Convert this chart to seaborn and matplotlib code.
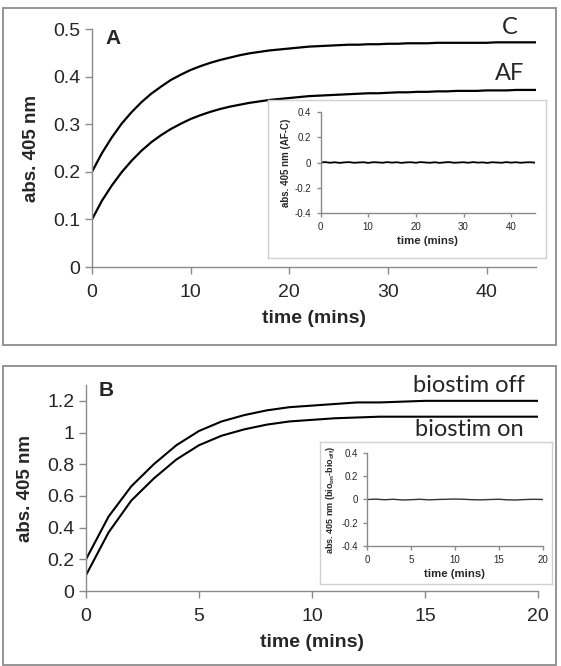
import numpy as np
import pandas as pd
import seaborn as sns
import matplotlib.pyplot as plt
from matplotlib.patches import Rectangle

# panel A: absorbance vs time, every minute
time_a = list(range(0, 46))
abs_c = [0.200, 0.239, 0.272, 0.301, 0.325, 0.346, 0.364, 0.379, 0.393, 0.404,
         0.414, 0.422, 0.429, 0.435, 0.440, 0.445, 0.449, 0.452, 0.455, 0.457,
         0.459, 0.461, 0.463, 0.464, 0.465, 0.466, 0.467, 0.467, 0.468, 0.468,
         0.469, 0.469, 0.470, 0.470, 0.470, 0.471, 0.471, 0.471, 0.471, 0.471,
         0.471, 0.472, 0.472, 0.472, 0.472, 0.472]
abs_af = [0.100, 0.139, 0.171, 0.199, 0.223, 0.244, 0.262, 0.277, 0.290, 0.301,
          0.311, 0.319, 0.326, 0.332, 0.337, 0.341, 0.345, 0.348, 0.351, 0.353,
          0.355, 0.357, 0.359, 0.360, 0.361, 0.362, 0.363, 0.364, 0.365, 0.365,
          0.366, 0.367, 0.367, 0.368, 0.368, 0.369, 0.369, 0.370, 0.370, 0.370,
          0.371, 0.371, 0.371, 0.372, 0.372, 0.372]
diff_a = [0.000, 0.003, -0.002, 0.002, -0.003, 0.001, 0.003, -0.002, 0.000, 0.002,
          -0.003, 0.002, 0.001, -0.002, 0.003, -0.001, 0.002, -0.003, 0.001, 0.002,
          -0.002, 0.003, 0.000, -0.002, 0.002, -0.003, 0.001, 0.003, -0.002, 0.000,
          0.002, -0.002, 0.003, -0.001, 0.001, -0.003, 0.002, 0.000, -0.002, 0.003,
          -0.001, 0.002, -0.002, 0.001, 0.002, -0.001]

# panel B
time_b = list(range(0, 21))
abs_off = [0.20, 0.47, 0.66, 0.80, 0.92, 1.01, 1.07, 1.11, 1.14, 1.16, 1.17,
           1.18, 1.19, 1.19, 1.195, 1.20, 1.20, 1.20, 1.20, 1.20, 1.20]
abs_on = [0.10, 0.37, 0.57, 0.71, 0.83, 0.92, 0.98, 1.02, 1.05, 1.07, 1.08,
          1.09, 1.095, 1.10, 1.10, 1.10, 1.10, 1.10, 1.10, 1.10, 1.10]
diff_b = [0.000, 0.003, -0.002, 0.002, -0.004, -0.002, 0.002, -0.003, 0.000, 0.002,
          0.004, 0.002, -0.002, -0.003, 0.000, 0.002, -0.003, -0.004, 0.000, 0.002, 0.000]

sns.set_style("white")
plt.rcParams['font.family'] = ['Liberation Sans', 'DejaVu Sans']
plt.rcParams['mathtext.fontset'] = 'custom'
plt.rcParams['mathtext.rm'] = 'Liberation Sans'
plt.rcParams['mathtext.bf'] = 'Liberation Sans:bold'

W, H = 561, 666
fig = plt.figure(figsize=(W / 100, H / 100), dpi=100)


def px_rect(x0, y0, x1, y1):
    # pixel box (top-left origin) -> figure fraction [left, bottom, width, height]
    return [x0 / W, 1 - y1 / H, (x1 - x0) / W, (y1 - y0) / H]


def style_axes(ax, tick_size, tick_len):
    for s in ['top', 'right']:
        ax.spines[s].set_visible(False)
    for s in ['left', 'bottom']:
        ax.spines[s].set_color('#8a8a8a')
        ax.spines[s].set_linewidth(1.0)
    ax.tick_params(axis='both', which='both', direction='out', length=tick_len,
                   width=1.0, color='#8a8a8a', labelsize=tick_size, left=True, bottom=True)
    ax.grid(False)


def frame(rect, color, lw):
    fig.patches.append(Rectangle((rect[0], rect[1]), rect[2], rect[3],
                                 transform=fig.transFigure, fill=False,
                                 edgecolor=color, linewidth=lw, zorder=0))


# panel frames
frame(px_rect(3, 8, 556, 345), '#8c8c8c', 1.3)
frame(px_rect(3, 366, 556, 665), '#8c8c8c', 1.3)

# ---- panel A ----
ax_a = fig.add_axes(px_rect(92, 29, 536, 267))
df_a = pd.DataFrame({'time': time_a, 'C': abs_c, 'AF': abs_af})
sns.lineplot(data=df_a, x='time', y='C', ax=ax_a, color='black', linewidth=1.6)
sns.lineplot(data=df_a, x='time', y='AF', ax=ax_a, color='black', linewidth=1.6)
ax_a.set_xlim(0, 45)
ax_a.set_ylim(0, 0.5)
ax_a.set_xticks([0, 10, 20, 30, 40])
ax_a.set_yticks([0, 0.1, 0.2, 0.3, 0.4, 0.5])
ax_a.set_yticklabels(['0', '0.1', '0.2', '0.3', '0.4', '0.5'])
style_axes(ax_a, 14, 5)
ax_a.tick_params(axis='x', pad=7)
ax_a.set_xlabel('time (mins)', fontsize=14, fontweight='bold', labelpad=7)
ax_a.set_ylabel('abs. 405 nm', fontsize=13.5, fontweight='bold', labelpad=9)

fig.text(113 / W, 1 - 39 / H, 'A', fontsize=15, fontweight='bold', ha='center', va='center')
fig.text(510 / W, 1 - 27 / H, 'C', fontsize=17, family='Lato', ha='center', va='center')
fig.text(510 / W, 1 - 73 / H, 'AF', fontsize=17, family='Lato', ha='center', va='center')

# inset A
box_a = fig.add_axes(px_rect(268, 100, 546, 258))
box_a.set_xticks([])
box_a.set_yticks([])
for s in box_a.spines.values():
    s.set_color('#d0d0d0')
    s.set_linewidth(1.0)
box_a.set_facecolor('white')

in_a = fig.add_axes(px_rect(320.5, 112, 535, 213))
in_a.patch.set_alpha(0)
df_da = pd.DataFrame({'time': time_a, 'diff': diff_a})
sns.lineplot(data=df_da, x='time', y='diff', ax=in_a, color='black', linewidth=1.3)
in_a.set_xlim(0, 45)
in_a.set_ylim(-0.4, 0.4)
in_a.set_xticks([0, 10, 20, 30, 40])
in_a.set_yticks([-0.4, -0.2, 0, 0.2, 0.4])
in_a.set_yticklabels(['-0.4', '-0.2', '0', '0.2', '0.4'])
style_axes(in_a, 7, 3)
in_a.set_xlabel('time (mins)', fontsize=8.2, fontweight='bold', labelpad=3)
in_a.set_ylabel('abs. 405 nm (AF-C)', fontsize=7, fontweight='bold', labelpad=3)

# ---- panel B ----
ax_b = fig.add_axes(px_rect(86, 385, 538, 591))
df_b = pd.DataFrame({'time': time_b, 'off': abs_off, 'on': abs_on})
sns.lineplot(data=df_b, x='time', y='off', ax=ax_b, color='black', linewidth=1.5)
sns.lineplot(data=df_b, x='time', y='on', ax=ax_b, color='black', linewidth=1.5)
ax_b.set_xlim(0, 20)
ax_b.set_ylim(0, 1.3)
ax_b.set_xticks([0, 5, 10, 15, 20])
ax_b.set_yticks([0, 0.2, 0.4, 0.6, 0.8, 1.0, 1.2])
ax_b.set_yticklabels(['0', '0.2', '0.4', '0.6', '0.8', '1', '1.2'])
style_axes(ax_b, 14, 5)
ax_b.tick_params(axis='x', pad=7)
ax_b.set_xlabel('time (mins)', fontsize=14, fontweight='bold', labelpad=7)
ax_b.set_ylabel('abs. 405 nm', fontsize=13.5, fontweight='bold', labelpad=9)

fig.text(106 / W, 1 - 391 / H, 'B', fontsize=15, fontweight='bold', ha='center', va='center')
fig.text(469 / W, 1 - 385 / H, 'biostim off', fontsize=17, family='Lato', ha='center', va='center')
fig.text(469 / W, 1 - 430 / H, 'biostim on', fontsize=17, family='Lato', ha='center', va='center')

# inset B
box_b = fig.add_axes(px_rect(320, 442, 552, 584))
box_b.set_xticks([])
box_b.set_yticks([])
for s in box_b.spines.values():
    s.set_color('#d0d0d0')
    s.set_linewidth(1.0)
box_b.set_facecolor('white')

in_b = fig.add_axes(px_rect(367, 453, 543, 546))
in_b.patch.set_alpha(0)
df_db = pd.DataFrame({'time': time_b, 'diff': diff_b})
sns.lineplot(data=df_db, x='time', y='diff', ax=in_b, color='#333333', linewidth=1.0)
in_b.set_xlim(0, 20)
in_b.set_ylim(-0.4, 0.4)
in_b.set_xticks([0, 5, 10, 15, 20])
in_b.set_yticks([-0.4, -0.2, 0, 0.2, 0.4])
in_b.set_yticklabels(['-0.4', '-0.2', '0', '0.2', '0.4'])
style_axes(in_b, 7, 3)
in_b.set_xlabel('time (mins)', fontsize=8.2, fontweight='bold', labelpad=3)
in_b.set_ylabel(r'abs. 405 nm (bio$_{\mathbf{on}}$-bio$_{\mathbf{off}}$)', fontsize=6.5,
                fontweight='bold', labelpad=3)

fig.savefig('out.png', dpi=100)
